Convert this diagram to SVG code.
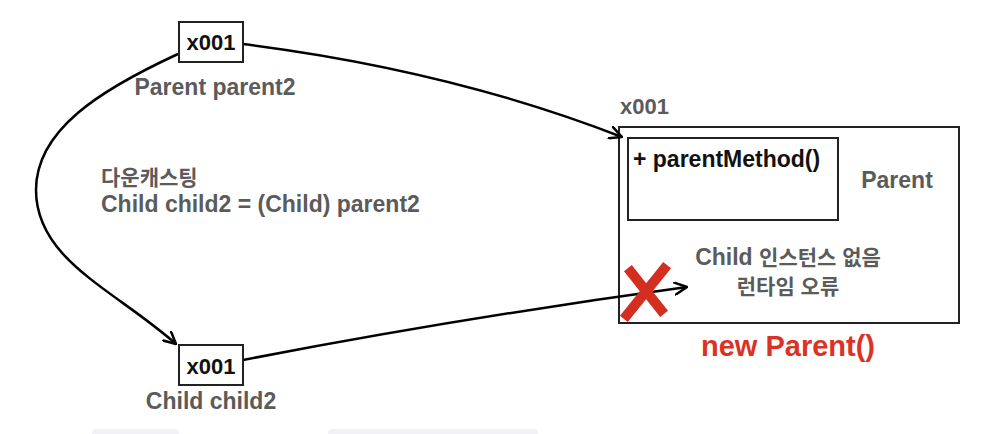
<svg xmlns="http://www.w3.org/2000/svg" width="992" height="434" viewBox="0 0 992 434">
<defs>
<style>
.t{font-family:"Liberation Sans","Noto Sans CJK KR",Arial,sans-serif;font-weight:bold;}
.g{fill:#5b5b5b;}
.k{fill:#111;}
.r{fill:#dc3224;}
.box{fill:#fff;stroke:#222;stroke-width:2;}
.frame{fill:none;stroke:#222;stroke-width:2;}
.ln{fill:none;stroke:#000;stroke-width:2.5;}
</style>
<marker id="arr" viewBox="0 0 14 14" refX="13" refY="7" markerWidth="14" markerHeight="14" markerUnits="userSpaceOnUse" orient="auto">
<path d="M1,1 L13,7 L1,13" fill="none" stroke="#000" stroke-width="2.5" stroke-linecap="round" stroke-linejoin="round"/>
</marker>
</defs>
<rect width="992" height="434" fill="#fff"/>
<rect x="92" y="429" width="87" height="10" rx="4" fill="#f1f1f6"/>
<rect x="328" y="429" width="210" height="10" rx="4" fill="#f1f1f6"/>

<g id="parent-instance">
<text class="t g" x="620" y="114" font-size="22">x001</text>
<rect class="frame" x="619" y="127" width="340" height="196"/>
<rect class="box" x="628" y="138" width="210" height="82"/>
<text class="t k" x="633" y="167" font-size="23">+ parentMethod()</text>
<text class="t g" x="897" y="188" font-size="23" text-anchor="middle">Parent</text>
<text class="t g" x="788" y="265" font-size="23" text-anchor="middle">Child <tspan font-size="21">인스턴스 없음</tspan></text>
<text class="t g" x="788" y="294" font-size="21" text-anchor="middle">런타임 오류</text>
<text class="t r" x="788" y="356" font-size="29" text-anchor="middle">new Parent()</text>
</g>

<g id="connectors">
<path class="ln" d="M243,44 Q450,70 622,137" marker-end="url(#arr)"/>
<path class="ln" d="M178,54 C100,90 36,130 36,190 C36,260 115,290 176,344" marker-end="url(#arr)"/>
<path class="ln" d="M243,360 Q460,318 687,287" marker-end="url(#arr)"/>
</g>

<g id="parent2">
<rect class="box" x="179" y="22" width="64" height="40"/>
<text class="t k" x="211" y="50" font-size="22" text-anchor="middle">x001</text>
<text class="t g" x="215" y="95" font-size="23" text-anchor="middle">Parent parent2</text>
</g>

<g id="downcast-label">
<text class="t g" x="101" y="185" font-size="21">다운캐스팅</text>
<text class="t g" x="101" y="212" font-size="23">Child child2 = (Child) parent2</text>
</g>

<g id="child2">
<rect class="box" x="179" y="345" width="64" height="40"/>
<text class="t k" x="211" y="374" font-size="22" text-anchor="middle">x001</text>
<text class="t g" x="211" y="409" font-size="23" text-anchor="middle">Child child2</text>
</g>

<g id="error-mark" stroke="#d42e21" stroke-width="10" stroke-linecap="square">
<line x1="631" y1="272" x2="661" y2="310"/>
<line x1="664" y1="269" x2="627" y2="315"/>
</g>
</svg>
